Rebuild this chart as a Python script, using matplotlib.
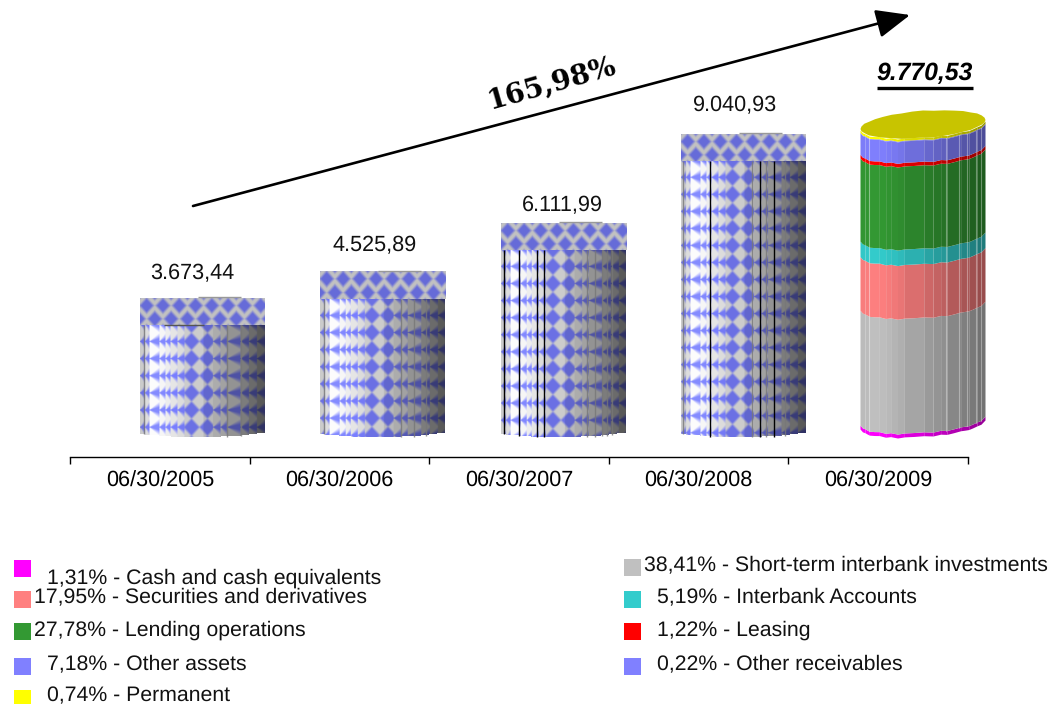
import numpy as np
import matplotlib
matplotlib.use('Agg')
import matplotlib.pyplot as plt
from matplotlib.patches import Polygon, Rectangle

plt.rcParams['font.family'] = ['Liberation Sans', 'DejaVu Sans']
plt.rcParams['text.hinting'] = 'no_hinting'

# chart data
dates = ['06/30/2005', '06/30/2006', '06/30/2007', '06/30/2008', '06/30/2009']
totals = [3673.44, 4525.89, 6111.99, 9040.93, 9770.53]
total_labels = ['3.673,44', '4.525,89', '6.111,99', '9.040,93', '9.770,53']
growth_label = '165,98%'

shares = [1.31, 38.41, 17.95, 5.19, 27.78, 1.22, 7.18, 0.22, 0.74]
share_names = ['Cash and cash equivalents', 'Short-term interbank investments',
               'Securities and derivatives', 'Interbank Accounts',
               'Lending operations', 'Leasing', 'Other assets',
               'Other receivables', 'Permanent']
share_texts = ['1,31%', '38,41%', '17,95%', '5,19%', '27,78%', '1,22%', '7,18%', '0,22%', '0,74%']
share_colors = ['#ff00ff', '#c0c0c0', '#ff8080', '#33cccc', '#339933', '#ff0000',
                '#8080ff', '#8080ff', '#ffff00']

W, H = 1051, 704
fig = plt.figure(figsize=(W / 100, H / 100), dpi=100)

# axis runs 70..968 px across, y=457 px is the bottom spine
ax = fig.add_axes([70 / W, 1 - 457 / H, 898 / W, 457 / H])
scale = 0.0306   # px per value unit
zero_px = 410.4
cat_px = 898 / 5
ax.set_xlim(-0.5, 4.5)
ax.set_ylim((zero_px - 457) / scale, zero_px / scale)
ax.patch.set_alpha(0)
for s in ['top', 'left', 'right']:
    ax.spines[s].set_visible(False)
ax.spines['bottom'].set_linewidth(1.0)
ax.yaxis.set_visible(False)
ax.set_xticks(np.arange(-0.5, 5))
ax.set_xticklabels([])
ax.tick_params(axis='x', direction='out', length=5, width=1.0)
for i, d in enumerate(dates):
    ax.text(i, (zero_px - 481) / scale, d, ha='center', va='center', fontsize=15.6, clip_on=False)


def x_of(p):
    # pixel column to category position
    return (p - 70) / cat_px - 0.5


bar_w = 125 / cat_px
bar_px = [202.5, 382.5, 563, 743.5, 923]   # the cylinders sit right of the tick label centres
px = 1 / scale

# facet edges of a cylinder, -1 left to +1 right
edges = np.array([-1, -0.92, -0.85, -0.69, -0.59, -0.51, -0.40, -0.29, 0.02, 0.17, 0.29, 0.39,
                  0.61, 0.74, 0.87, 1])


def staggered(xp, yp, period_x, period_y, half_w, half_h, k=2.0):
    # staggered rows of diamonds, used on the flat caps
    dx1 = np.abs((xp / period_x + 0.5) % 1 - 0.5) * period_x
    dy1 = np.abs((yp / period_y + 0.5) % 1 - 0.5) * period_y
    dx2 = np.abs((xp / period_x) % 1 - 0.5) * period_x
    dy2 = np.abs((yp / period_y) % 1 - 0.5) * period_y
    d = np.minimum(dx1 / half_w + dy1 / half_h, dx2 / half_w + dy2 / half_h)
    return np.clip((1 - d) * k + 0.5, 0, 1)


def aligned(xp, yp, period_x, period_y, k=2.5):
    # blue and grey diamonds touching, used on the middle facets
    dx = np.abs((xp / period_x) % 1 - 0.5)
    dy = np.abs((yp / period_y) % 1 - 0.5)
    return np.clip((0.5 - dx - dy) * 2 * k + 0.5, 0, 1)


def shade(xn):
    # light comes from the left
    return np.interp(xn, [-1, -0.9, -0.75, -0.5, 0, 0.5, 1], [1.0, 1.12, 1.33, 1.2, 1.0, 0.76, 0.42])


def textured_bar(i, value, black_lines, grey_lines):
    top = value
    cap_h = 27 * px
    cx = x_of(bar_px[i])
    xl, xr = cx - bar_w / 2, cx + bar_w / 2
    grey = np.array([0.76, 0.76, 0.76])
    blue = np.array([0.40, 0.42, 0.85])

    # flat cap
    rows = 54
    cols = 250
    yy, xx = np.mgrid[0:rows, 0:cols]
    t = staggered(xx / 2.0 - 6.4, yy / 2.0 - 7.3, 16.3, 26.6, 7.0, 7.6)[..., None]
    ax.imshow(grey * (1 - t) + blue * t, extent=[xl, xr, top - cap_h, top], aspect='auto',
              interpolation='bilinear', zorder=2)

    # side, from cap bottom down to the curved base
    bottom = -27 * px
    side_h = int((top - cap_h - bottom) * scale * 2)
    yy, xx = np.mgrid[0:side_h, 0:cols]
    xn = (xx + 0.5) / cols * 2 - 1
    idx = np.clip(np.searchsorted(edges, xn) - 1, 0, len(edges) - 2)
    mid = (edges[idx] + edges[idx + 1]) / 2
    phase = (xn - edges[idx]) / (edges[idx + 1] - edges[idx])
    # facets away from the middle only show half a diamond, a left pointing triangle
    dy = np.abs((yy / 2.0 / 17 + 0.5) % 1 - 0.5) * 17
    tri = np.clip((1 - dy / (np.maximum(phase, 0.08) * 6.5)) * 1.1 + 0.35, 0, 1)
    full = aligned(xn * 62.5 + 3, yy / 2.0 + 8.5, 16, 17)
    t = np.where(np.abs(mid + 0.05) < 0.25, full, tri)[..., None]
    img = (grey * (1 - t) + blue * t) * shade(mid)[..., None]
    im = ax.imshow(np.clip(img, 0, 1), extent=[xl, xr, bottom, top - cap_h], aspect='auto',
                   interpolation='bilinear', zorder=1)

    # stepped base, every facet ends a bit higher towards the edges
    mids = (edges[:-1] + edges[1:]) / 2
    base_y = bottom + (1 - np.sqrt(1 - mids ** 2)) * 5 * px + (mids + 1) * 0.5 * px
    step_x = np.repeat(edges, 2)[1:-1]
    step_y = np.repeat(base_y, 2)
    outline = np.r_[np.c_[cx + step_x * bar_w / 2, step_y], [[xr, top - cap_h], [xl, top - cap_h]]]
    im.set_clip_path(Polygon(outline, transform=ax.transData))

    # seams between the facets
    for lines, col, lw in [(grey_lines, '#777777', 1.0), (black_lines, '#000000', 1.0)]:
        for n in lines:
            yb = bottom + 5 * px * (1 - np.sqrt(1 - n ** 2))
            ax.plot([cx + n * bar_w / 2] * 2, [yb, top - cap_h], color=col, lw=lw, zorder=3,
                    solid_capstyle='butt', alpha=0.8 if col != '#000000' else 1)
    ax.plot([cx - 0.07 * bar_w / 2, cx + 0.62 * bar_w / 2], [top + 1 * px] * 2, color='#999999', lw=1.0,
            zorder=3, solid_capstyle='butt')


black_seams = [[], [], [-0.94, -0.70, -0.41, -0.30], [-0.54, 0.26, 0.49]]
grey_seams = [[-0.94, 0.39, 0.61], [-0.94, 0.29, 0.5, 0.7], [0.38, 0.51, 0.62, 0.70, 0.79],
              [-0.97, 0.14, 0.36, 0.66]]
for i in range(4):
    textured_bar(i, totals[i], black_seams[i], grey_seams[i])
cx0 = x_of(bar_px[0])
ax.plot([cx0 - 0.61 * bar_w / 2, cx0 + 0.02 * bar_w / 2], [totals[0] - 27 * px] * 2, color='#555555', lw=1.0,
        zorder=3, solid_capstyle='butt')

# last bar, stacked from the shares
rim_a = 12 * px
tilt = 4.5 * px
wobble = [0, 0.6, -0.5, 0.7, -0.4, 0.5, -0.7, 0.4, 0.7, -0.4, 0.5, -0.6, 0.5, -0.3, 0.6, 0]
cx4 = x_of(bar_px[4])


def front_curve(level, xn):
    w = np.interp(xn, edges, wobble) * px
    return level - rim_a * np.sqrt(np.clip(1 - xn ** 2, 0, 1)) + tilt * xn + w


lift = (425 - zero_px) * px
height = totals[4]
levels = np.r_[0, np.cumsum(shares)] / 100 * height - lift
for seg in range(len(shares)):
    c0 = np.array(matplotlib.colors.to_rgb(share_colors[seg]))
    for k in range(len(edges) - 1):
        a, b = edges[k], edges[k + 1]
        xs = np.linspace(a, b, 3)
        poly = np.r_[np.c_[cx4 + xs * bar_w / 2, front_curve(levels[seg], xs)],
                     np.c_[cx4 + xs[::-1] * bar_w / 2, front_curve(levels[seg + 1], xs[::-1])]]
        m = (a + b) / 2
        f = np.interp(m, [-1, -0.7, 1], [0.97, 1.0, 0.58])
        ax.add_patch(Polygon(poly, closed=True, fc=np.clip(c0 * f, 0, 1), ec='none', zorder=2, clip_on=False))

# top of the last bar
t = np.linspace(0, 2 * np.pi, 37)
xt = np.cos(t)
back = levels[-1] + 1.5 * px + 13.5 * px * np.sin(t) + tilt * xt
back += np.interp(xt, edges, wobble) * px * 0.8
ax.add_patch(Polygon(np.c_[cx4 + xt * bar_w / 2, back], closed=True, fc='#c8c400', ec='none', zorder=4, clip_on=False))

# seams on the last bar
for xn in [-0.87, 0.37, 0.58, 0.71, 0.84, 0.93]:
    y0 = front_curve(levels[1], np.array([xn]))[0]
    y1 = front_curve(levels[-2], np.array([xn]))[0]
    ax.plot([cx4 + xn * bar_w / 2] * 2, [y0, y1], color='white', alpha=0.35, lw=0.8, zorder=3, clip_on=False)

# value labels
label_px = [274, 246, 206, 106]
label_x = [192.5, 375, 562, 735]
for i in range(4):
    ax.text(x_of(label_x[i]), (zero_px - label_px[i]) / scale, total_labels[i], ha='center',
            va='center', fontsize=15.6, color='#111111', zorder=5)
ax.text(x_of(924.5), (zero_px - 74) / scale, total_labels[4], ha='center', va='center', fontsize=17.8,
        fontweight='bold', fontstyle='italic', zorder=5, clip_on=False)
ax.plot([x_of(877), x_of(973)], [(zero_px - 87.5) / scale] * 2, color='black', lw=2.4,
        solid_capstyle='butt', zorder=5, clip_on=False)

# the growth arrow
ax.annotate('', xy=(910 / W, 1 - 15 / H), xytext=(193 / W, 1 - 206 / H), xycoords='figure fraction',
            textcoords='figure fraction',
            arrowprops=dict(arrowstyle='-|>,head_length=1.3,head_width=0.55', color='black', lw=1.9,
                            shrinkA=0, shrinkB=0, mutation_scale=16))
fig.text(552 / W, 1 - 84 / H, growth_label, ha='center', va='center', rotation=16, fontsize=20,
         family='DejaVu Serif', fontweight='bold', color='black')

# legend, left column then right column
left_order = [0, 2, 4, 6, 8]
left_text_y = [578, 597, 630, 664, 696]
left_box_y = [568, 599.5, 631.5, 666.5, 698]
right_order = [1, 3, 5, 7]
right_text_y = [565, 597, 630, 664]
right_box_y = [567, 599, 631, 666]


def legend_entry(idx, box_x, text_x, text_y, box_y):
    fig.patches.append(Rectangle((box_x / W, 1 - (box_y + 8.5) / H), 16.5 / W, 17 / H, transform=fig.transFigure,
                                 fc=share_colors[idx], ec='none', figure=fig))
    x = text_x - (13 if len(share_texts[idx]) == 6 else 0)
    fig.text(x / W, 1 - text_y / H, share_texts[idx] + ' - ' + share_names[idx], ha='left', va='center',
             fontsize=15.3, color='#111111')


for n, idx in enumerate(left_order):
    legend_entry(idx, 14, 47, left_text_y[n], left_box_y[n])
for n, idx in enumerate(right_order):
    legend_entry(idx, 624, 657, right_text_y[n], right_box_y[n])

ax.set_xlim(-0.5, 4.5)
ax.set_ylim((zero_px - 457) / scale, zero_px / scale)
fig.savefig('out.png', dpi=100)
